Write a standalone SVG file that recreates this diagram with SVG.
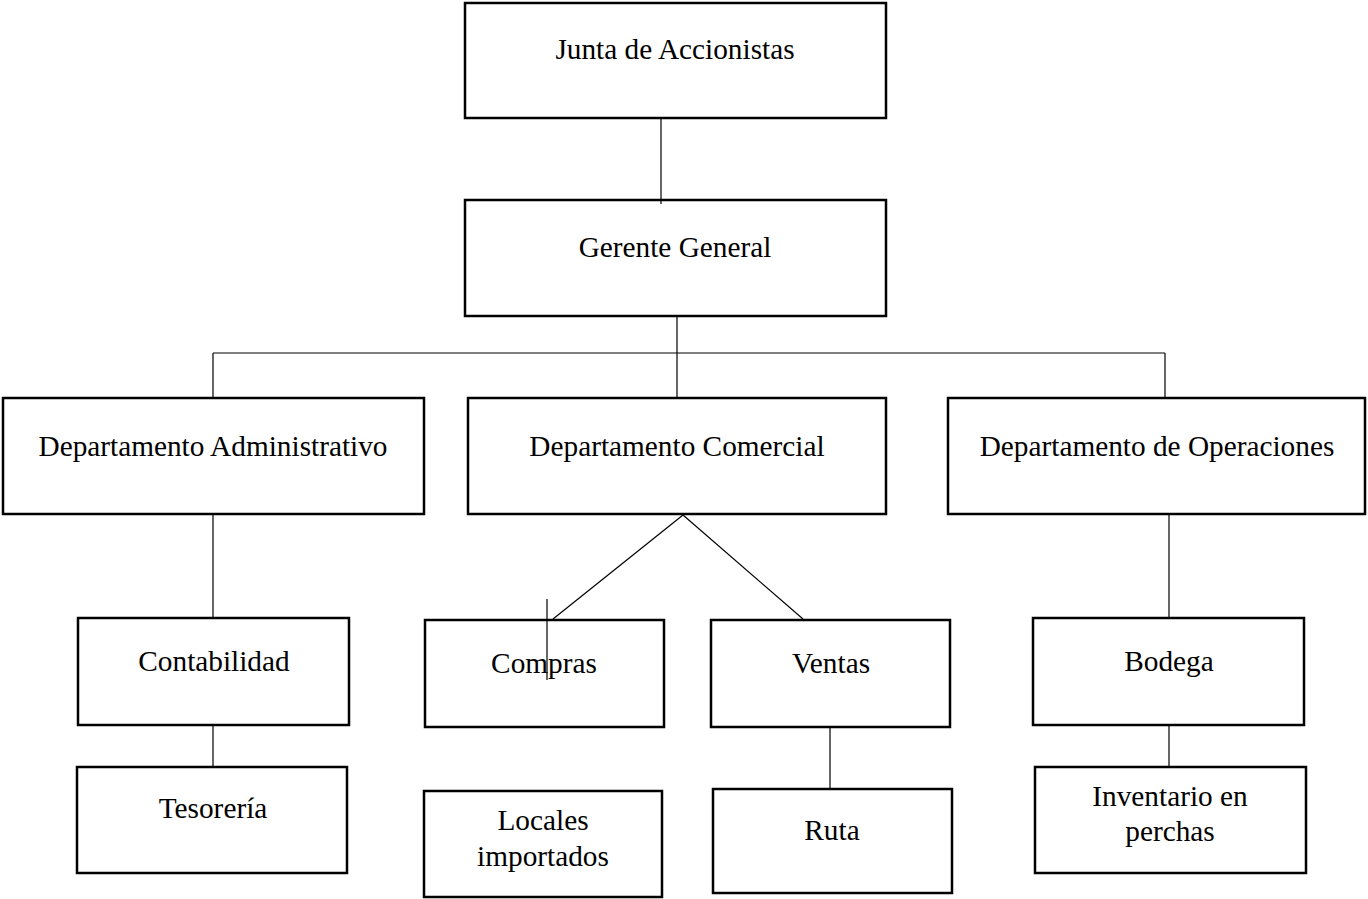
<svg xmlns="http://www.w3.org/2000/svg" width="1368" height="899" viewBox="0 0 1368 899">
<style>
.box{fill:#fff;stroke:#000;stroke-width:2.5}
.lbl{font-family:"Liberation Serif","Times New Roman",serif;font-size:29.3px;fill:#000;text-anchor:middle}
.con line{stroke:#000;stroke-width:1.2}
</style>
<rect width="1368" height="899" fill="#fff"/>
<g id="junta"><rect class="box" x="465" y="3" width="421" height="115"/><text class="lbl" x="675" y="59">Junta de Accionistas</text></g>
<g id="gerente"><rect class="box" x="465" y="200" width="421" height="116"/><text class="lbl" x="675" y="257">Gerente General</text></g>
<g id="dep-admin"><rect class="box" x="3" y="398" width="421" height="116"/><text class="lbl" x="213" y="456">Departamento Administrativo</text></g>
<g id="dep-comercial"><rect class="box" x="468" y="398" width="418" height="116"/><text class="lbl" x="677" y="456">Departamento Comercial</text></g>
<g id="dep-operaciones"><rect class="box" x="948" y="398" width="417" height="116"/><text class="lbl" x="1157" y="456">Departamento de Operaciones</text></g>
<g id="contabilidad"><rect class="box" x="78" y="618" width="271" height="107"/><text class="lbl" x="214" y="671">Contabilidad</text></g>
<g id="tesoreria"><rect class="box" x="77" y="767" width="270" height="106"/><text class="lbl" x="213" y="818">Tesorería</text></g>
<g id="compras"><rect class="box" x="425" y="620" width="239" height="107"/><text class="lbl" x="544" y="673">Compras</text></g>
<g id="ventas"><rect class="box" x="711" y="620" width="239" height="107"/><text class="lbl" x="831" y="673">Ventas</text></g>
<g id="locales"><rect class="box" x="424" y="791" width="238" height="106"/><text class="lbl" x="543" y="830">Locales</text><text class="lbl" x="543" y="866">importados</text></g>
<g id="ruta"><rect class="box" x="713" y="789" width="239" height="104"/><text class="lbl" x="832" y="840">Ruta</text></g>
<g id="bodega"><rect class="box" x="1033" y="618" width="271" height="107"/><text class="lbl" x="1169" y="671">Bodega</text></g>
<g id="inventario"><rect class="box" x="1035" y="767" width="271" height="106"/><text class="lbl" x="1170" y="806">Inventario en</text><text class="lbl" x="1170" y="841">perchas</text></g>
<g id="connectors" class="con">
<line x1="661" y1="119" x2="661" y2="204"/>
<line x1="677" y1="317" x2="677" y2="397"/>
<line x1="213" y1="353" x2="1165" y2="353"/>
<line x1="213" y1="353" x2="213" y2="397"/>
<line x1="1165" y1="353" x2="1165" y2="397"/>
<line x1="213" y1="515" x2="213" y2="617"/>
<line x1="213" y1="726" x2="213" y2="766"/>
<line x1="683" y1="515" x2="553" y2="619"/>
<line x1="683" y1="515" x2="803" y2="619"/>
<line x1="547" y1="599" x2="547" y2="680"/>
<line x1="830" y1="728" x2="830" y2="788"/>
<line x1="1169" y1="515" x2="1169" y2="617"/>
<line x1="1169" y1="726" x2="1169" y2="766"/>
</g>
</svg>
